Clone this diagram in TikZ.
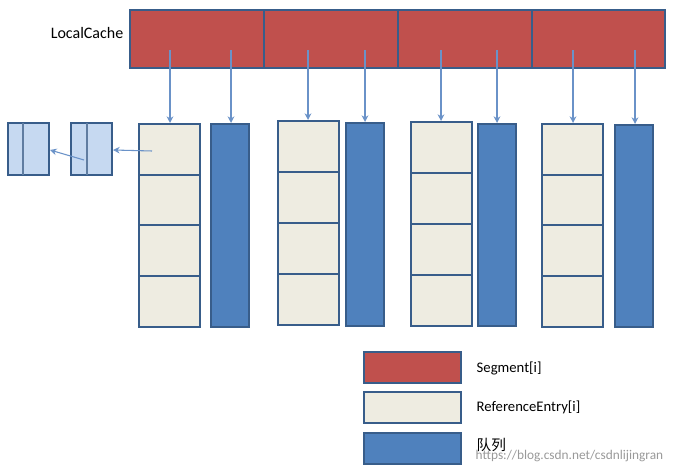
\documentclass[tikz,border=0pt]{standalone}
\usepackage{fontspec}
\setmainfont{Carlito}
\newfontfamily\cjk{Noto Sans CJK SC}
\usetikzlibrary{arrows.meta}
\begin{document}
\begin{tikzpicture}[x=0.75pt,y=-0.75pt,
  bx/.style={draw=bdr,line width=1.5pt},
  seg/.style={bx,fill=segred},
  ent/.style={bx,fill=entbg},
  que/.style={bx,fill=qblue},
  sm/.style={bx,fill=smblue},
  arr/.style={draw=arrc,line width=0.8pt,-{Stealth[length=5pt,width=5pt,open]}},
  lbl/.style={font=\fontsize{11}{13}\selectfont,anchor=west}]
\definecolor{bdr}{HTML}{385D8A}
\definecolor{segred}{HTML}{C0504D}
\definecolor{entbg}{HTML}{EEECE1}
\definecolor{qblue}{HTML}{4F81BD}
\definecolor{smblue}{HTML}{C6D9F1}
\definecolor{arrc}{HTML}{6A92C8}
\useasboundingbox (0,0) rectangle (673,473);
% segments
\foreach \a/\b/\n in {130/264/s1,264/398/s2,398/532/s3,532/665/s4}
  \node[seg,inner sep=0,minimum width={(\b-\a)*0.75pt},minimum height={58*0.75pt}] (\n) at ({(\a+\b)/2},39) {};
\node[lbl,anchor=east,font=\fontsize{12}{14}\selectfont] (lc) at (128,33) {LocalCache};
% entries and queues
\foreach \g/\ex/\et/\eb/\qx/\qt/\qb in {1/139/124/327/211/124/327,2/278/121/325/346/123/326,3/411/122/326/478/124/326,4/542/124/327/615/125/327}{
  \pgfmathsetmacro{\rh}{(\eb-\et)/4}
  \foreach \r in {0,1,2,3}
    \node[ent,inner sep=0,minimum width={61*0.75pt},minimum height={\rh*0.75pt}] (e\g\r) at ({\ex+30.5},{\et+\rh/2+\rh*\r}) {};
  \node[que,inner sep=0,minimum width={38*0.75pt},minimum height={(\qb-\qt)*0.75pt}] (q\g) at ({\qx+19},{(\qt+\qb)/2}) {};
}
% arrows from segments
\foreach \g/\s/\ex/\qx in {1/s1/170/231,2/s2/308/365,3/s3/441/497,4/s4/573/635}{
  \coordinate (a\g) at (\ex,50); \coordinate (b\g) at (\qx,50);
  \draw[arr] (a\g) -- (a\g |- e\g0.north);
  \draw[arr] (b\g) -- (b\g |- q\g.north);
}
% small chain
\node[sm,inner sep=0,minimum width={41*0.75pt},minimum height={52*0.75pt}] (c1) at (28.5,149) {};
\node[sm,inner sep=0,minimum width={41*0.75pt},minimum height={52*0.75pt}] (c2) at (91.5,149) {};
\draw[bdr!80,line width=0.8pt] (23,123) -- (23,175) (87,123) -- (87,175);
\coordinate (p1) at (152,151); \coordinate (p2) at (84,160);
\draw[arr] (p1) -- (c2.east|-0,150);
\draw[arr] (p2) -- (c1.east|-0,150);
% legend
\node[seg,inner sep=0,minimum width={97*0.75pt},minimum height={31*0.75pt}] (l1) at (412.5,367.5) {};
\node[ent,inner sep=0,minimum width={97*0.75pt},minimum height={31*0.75pt}] (l2) at (412.5,407.5) {};
\node[que,inner sep=0,minimum width={97*0.75pt},minimum height={31*0.75pt}] (l3) at (412.5,448.5) {};
\node[lbl] (t1) at (472,368) {Segment[i]};
\node[lbl] (t2) at (472,407) {ReferenceEntry[i]};
\node[lbl] (t3) at (472,445) {\cjk 队列};
\node[anchor=east,text=black!40,font=\fontsize{10}{11}\selectfont] (wm) at (668,456) {https://blog.csdn.net/csdnlijingran};
\end{tikzpicture}
\end{document}
